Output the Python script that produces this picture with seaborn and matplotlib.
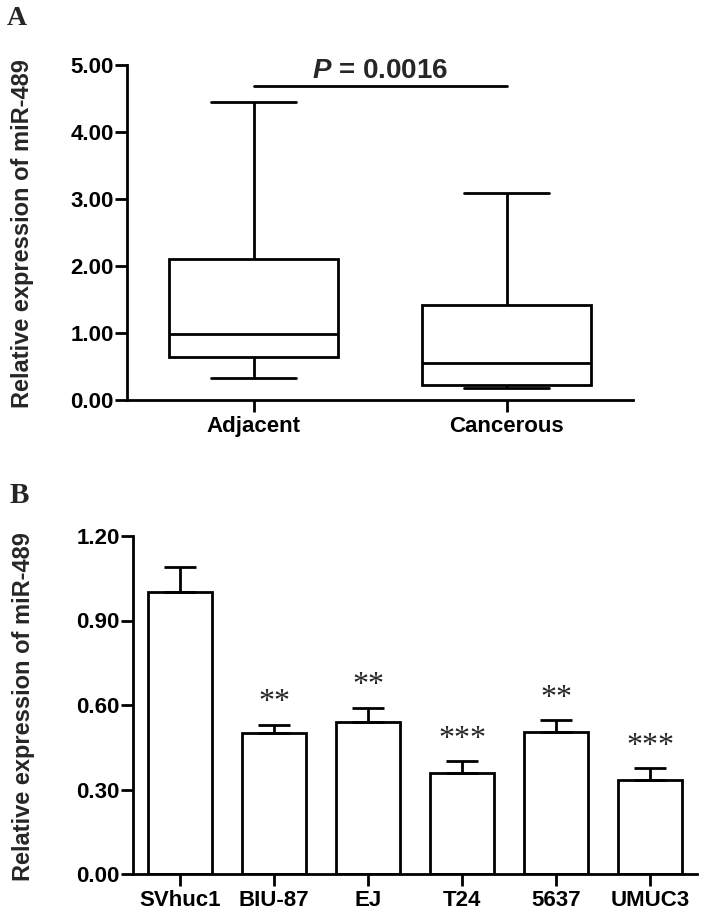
"""
miR-489 expression: box plot of tissues (A) and bar chart of cell lines (B).
"""
import numpy as np
import pandas as pd
import matplotlib
matplotlib.use('Agg')
import matplotlib.pyplot as plt
from matplotlib.ticker import FormatStrFormatter
import seaborn as sns

sns.set_style("ticks")
plt.rcParams['font.family'] = ['Liberation Sans', 'DejaVu Sans']
plt.rcParams['font.weight'] = 'bold'
plt.rcParams['axes.linewidth'] = 2.0
plt.rcParams['axes.edgecolor'] = 'black'
plt.rcParams['mathtext.fontset'] = 'custom'
plt.rcParams['mathtext.it'] = 'Liberation Sans:italic:bold'
plt.rcParams['mathtext.rm'] = 'Liberation Sans:bold'

# Panel A: five-number summaries (min, Q1, median, Q3, max)
groups = ['Adjacent', 'Cancerous']
adjacent_summary = [0.33, 0.645, 0.98, 2.10, 4.445]
cancerous_summary = [0.18, 0.22, 0.547, 1.416, 3.09]
p_text = r'$P$ = 0.0016'
p_line_y = 4.68

# Panel B: mean expression and upper error per cell line
cell_lines = ['SVhuc1', 'BIU-87', 'EJ', 'T24', '5637', 'UMUC3']
expr_mean = [1.00, 0.50, 0.54, 0.36, 0.505, 0.335]
expr_err = [0.09, 0.03, 0.05, 0.04, 0.04, 0.04]
stars = ['', '**', '**', '***', '**', '***']

YLABEL = 'Relative expression of miR-489'
LW = 2.0
W, H = 719, 919

fig = plt.figure(figsize=(W / 100, H / 100), dpi=100)


def style_axis(ax):
    sns.despine(ax=ax)
    ax.tick_params(axis='y', length=8.5, width=LW, pad=1, labelsize=16, colors='black')
    ax.tick_params(axis='x', length=8.5, width=LW, pad=3, labelsize=16, colors='black')
    ax.yaxis.set_major_formatter(FormatStrFormatter('%.2f'))
    ax.set_xlabel('')
    ax.set_ylabel('')


# ---- Panel A ----
axa = fig.add_axes([127 / W, 1 - 400 / H, 506 / W, 335 / H])
box_df = pd.DataFrame({
    'group': np.repeat(groups, 5),
    'value': adjacent_summary + cancerous_summary,
})
sns.boxplot(data=box_df, x='group', y='value', ax=axa, whis=(0, 100),
            width=0.67, color='white', saturation=1, linecolor='black',
            linewidth=LW, fliersize=0)
axa.set_xlim(-0.5, 1.5)
axa.set_ylim(0, 5)
axa.set_yticks(np.arange(0, 6, 1))
style_axis(axa)
axa.plot([0, 1], [p_line_y, p_line_y], color='black', lw=LW, clip_on=False)
axa.text(0.5, 4.80, p_text, ha='center', va='baseline', fontsize=20,
         weight='bold', clip_on=False)

# ---- Panel B ----
axb = fig.add_axes([133 / W, 1 - 874 / H, 564 / W, 338 / H])
bar_df = pd.DataFrame({'line': cell_lines, 'expr': expr_mean})
sns.barplot(data=bar_df, x='line', y='expr', ax=axb, color='white',
            saturation=1, edgecolor='black', linewidth=LW, width=0.68,
            errorbar=None)
xpos = np.arange(len(cell_lines))
axb.errorbar(xpos, expr_mean, yerr=[np.zeros(len(xpos)), expr_err], fmt='none',
             ecolor='black', elinewidth=LW, capsize=11.5, capthick=LW)
for i, (m, e, s) in enumerate(zip(expr_mean, expr_err, stars)):
    axb.text(i, m + e + 0.051, s, ha='center', va='baseline', fontsize=23,
             family='Liberation Serif', weight='normal')
axb.set_xlim(-0.5, len(cell_lines) - 0.5)
axb.set_ylim(0, 1.2)
axb.set_yticks(np.arange(0, 1.21, 0.3))
style_axis(axb)

# ---- labels ----
fig.text(23 / W, 1 - 234 / H, YLABEL, rotation=90, ha='center', va='center',
         fontsize=17, weight='bold')
fig.text(24 / W, 1 - 707 / H, YLABEL, rotation=90, ha='center', va='center',
         fontsize=17, weight='bold')
fig.text(7 / W, 1 - 25 / H, 'A', ha='left', va='baseline', fontsize=20,
         family='Liberation Serif', weight='bold')
fig.text(10 / W, 1 - 503 / H, 'B', ha='left', va='baseline', fontsize=21,
         family='Liberation Serif', weight='bold')

fig.savefig('out.png', dpi=100)
plt.close(fig)
